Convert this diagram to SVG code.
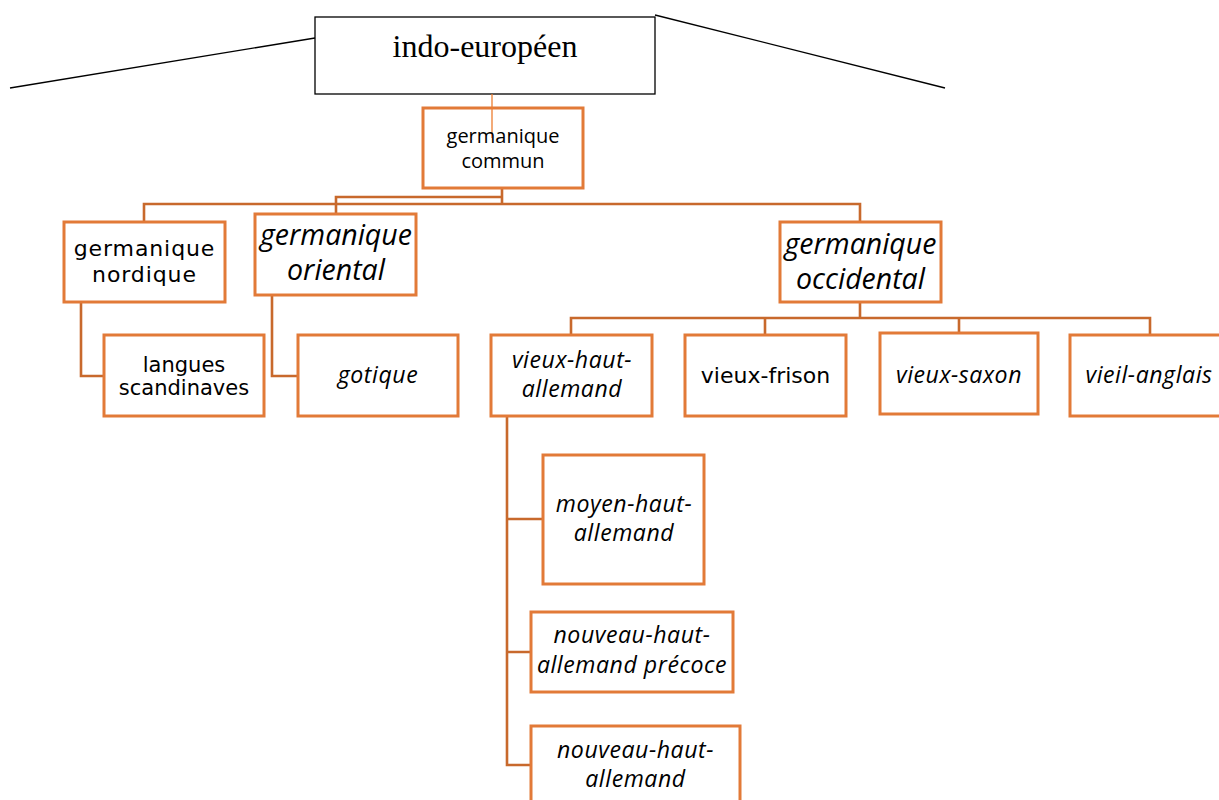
<svg xmlns="http://www.w3.org/2000/svg" width="1219" height="800" viewBox="0 0 1219 800">
<style>
.bx{fill:#fff;stroke:#E27A38;stroke-width:3}
.cn{fill:none;stroke:#C8692C;stroke-width:2.6}
.blk{fill:none;stroke:#000;stroke-width:1.3}
.os{font-family:"Open Sans","Noto Sans",sans-serif;fill:#000;text-anchor:middle}
.osi{font-family:"Open Sans","Noto Sans",sans-serif;font-style:italic;fill:#000;text-anchor:middle;font-size:23.1px;letter-spacing:0.55px}
.big{font-size:28.5px;letter-spacing:0}
.dv{font-family:"DejaVu Sans",sans-serif;fill:#000;text-anchor:middle}
</style>
<rect width="1219" height="800" fill="#fff"/>
<g id="connectors">
<line class="blk" x1="10" y1="88" x2="315" y2="38"/>
<line class="blk" x1="655" y1="15" x2="945" y2="88"/>
<path class="cn" d="M502 188V204M144 222V204H860V222M336 214V197H502"/>
<path class="cn" d="M81 302V376H104M272 295V376H298"/>
<path class="cn" d="M860 302V318M571 335V318H1150V335M765 318V335M959 318V333"/>
<path class="cn" d="M507 416V765H531M507 519H543M507 652H531"/>
</g>
<g id="indo-europeen">
<rect class="blk" x="315" y="17" width="340" height="77"/>
<text x="485" y="57" font-family="'Liberation Serif',serif" font-size="32" text-anchor="middle">indo-européen</text>
</g>
<g id="germanique-commun">
<rect class="bx" x="423" y="108" width="160" height="80"/>
<line x1="492" y1="94" x2="492" y2="138" stroke="#ED7D31" stroke-width="1.3"/>
<text class="os" font-size="20"><tspan x="503" y="143">germanique</tspan><tspan x="503" y="168">commun</tspan></text>
</g>
<g id="germanique-nordique">
<rect class="bx" x="64" y="222" width="161" height="80"/>
<text class="dv" font-size="22" letter-spacing="0.9"><tspan x="144.5" y="256">germanique</tspan><tspan x="144.5" y="282">nordique</tspan></text>
</g>
<g id="germanique-oriental">
<rect class="bx" x="255" y="214" width="161" height="81"/>
<text class="osi big"><tspan x="336" y="245">germanique</tspan><tspan x="336" y="280">oriental</tspan></text>
</g>
<g id="germanique-occidental">
<rect class="bx" x="780" y="222" width="161" height="80"/>
<text class="osi big"><tspan x="860.5" y="254">germanique</tspan><tspan x="860.5" y="289">occidental</tspan></text>
</g>
<g id="langues-scandinaves">
<rect class="bx" x="104" y="335" width="160" height="81"/>
<text class="dv" font-size="21"><tspan x="184" y="372">langues</tspan><tspan x="184" y="395">scandinaves</tspan></text>
</g>
<g id="gotique">
<rect class="bx" x="298" y="335" width="160" height="81"/>
<text class="osi" x="378" y="383">gotique</text>
</g>
<g id="vieux-haut-allemand">
<rect class="bx" x="491" y="335" width="161" height="81"/>
<text class="osi"><tspan x="572" y="368">vieux-haut-</tspan><tspan x="572" y="397">allemand</tspan></text>
</g>
<g id="vieux-frison">
<rect class="bx" x="685" y="335" width="161" height="81"/>
<text class="dv" font-size="22" x="765.5" y="383">vieux-frison</text>
</g>
<g id="vieux-saxon">
<rect class="bx" x="880" y="333" width="158" height="81"/>
<text class="osi" x="959" y="383">vieux-saxon</text>
</g>
<g id="vieil-anglais">
<rect class="bx" x="1070" y="335" width="160" height="81"/>
<text class="osi" x="1149" y="383">vieil-anglais</text>
</g>
<g id="moyen-haut-allemand">
<rect class="bx" x="543" y="455" width="161" height="129"/>
<text class="osi"><tspan x="624" y="512">moyen-haut-</tspan><tspan x="624" y="541">allemand</tspan></text>
</g>
<g id="nouveau-haut-allemand-precoce">
<rect class="bx" x="531" y="612" width="202" height="80"/>
<text class="osi"><tspan x="632" y="643">nouveau-haut-</tspan><tspan x="632" y="673">allemand précoce</tspan></text>
</g>
<g id="nouveau-haut-allemand">
<rect class="bx" x="531" y="726" width="209" height="90"/>
<text class="osi"><tspan x="635.5" y="758">nouveau-haut-</tspan><tspan x="635.5" y="787">allemand</tspan></text>
</g>
</svg>
